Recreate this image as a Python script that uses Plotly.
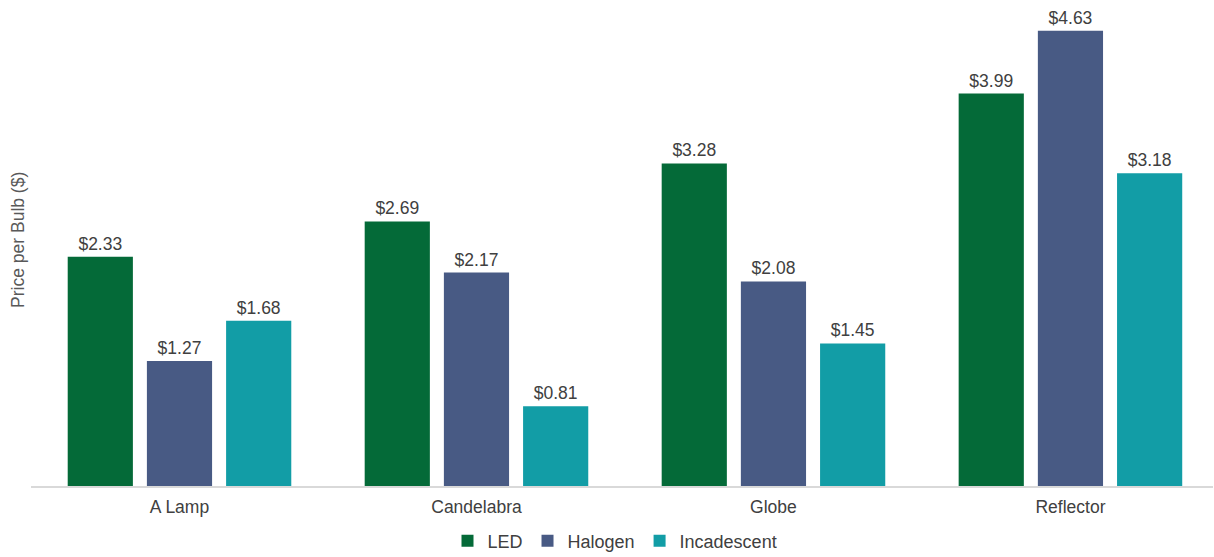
import plotly.graph_objects as go

categories = ["A Lamp", "Candelabra", "Globe", "Reflector"]
led = [2.33, 2.69, 3.28, 3.99]
halogen = [1.27, 2.17, 2.08, 4.63]
incandescent = [1.68, 0.81, 1.45, 3.18]

series = [
    ("LED", led, "#046A38"),
    ("Halogen", halogen, "#485A84"),
    ("Incadescent", incandescent, "#129DA6"),
]

fig = go.Figure()
for name, vals, color in series:
    fig.add_trace(go.Bar(
        name=name, x=categories, y=vals,
        marker=dict(color=color, line=dict(width=0)),
        texttemplate="$%{y:.2f}", textposition="outside",
        textfont=dict(family="Liberation Sans, Arial", size=17.5, color="#404040"),
        cliponaxis=False,
    ))

fig.update_layout(
    width=1214, height=557,
    margin=dict(l=31, r=1, t=10, b=71, autoexpand=False),
    paper_bgcolor="white", plot_bgcolor="white",
    barmode="group", bargap=0.2, bargroupgap=0.177,
    font=dict(family="Liberation Sans, Arial", size=17.5, color="#404040"),
    showlegend=True,
    legend=dict(orientation="h", x=615 / 1214, xanchor="center", xref="container",
                y=1 - 541 / 557, yanchor="middle", yref="container",
                font=dict(size=18, color="#404040"), itemwidth=30, traceorder="normal"),
    xaxis=dict(showline=True, linecolor="#D9D9D9", linewidth=1.5, ticks="",
               automargin=False, ticklabelstandoff=4, range=[-0.5, 3.48],
               tickfont=dict(size=17.5, color="#404040")),
    yaxis=dict(range=[0, 4.84], showgrid=False, showticklabels=False, zeroline=False,
               showline=False, automargin=False),
    annotations=[dict(text="Price per Bulb ($)", xref="paper", yref="paper", x=0, y=0.517,
                      xanchor="center", yanchor="middle", xshift=-13, textangle=-90,
                      showarrow=False, font=dict(size=17.5, color="#595959"))],
)

fig.write_html("out.html", config={"displayModeBar": False},
               post_script="document.body.style.margin='0';document.body.style.padding='0';")
